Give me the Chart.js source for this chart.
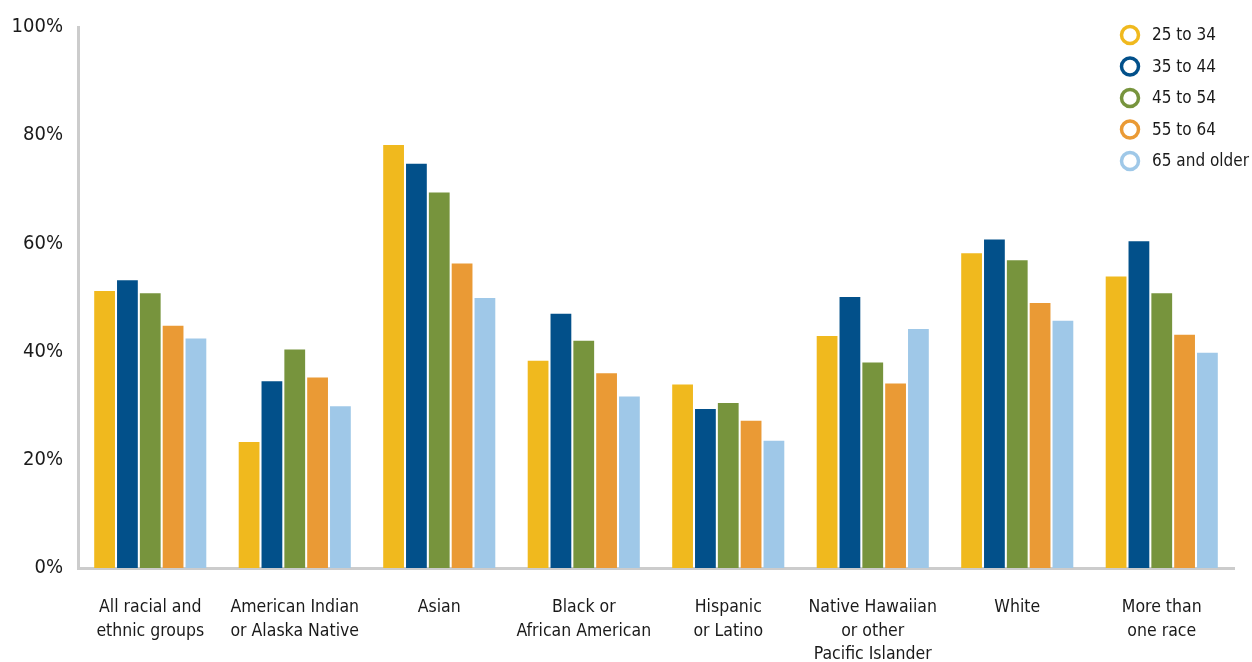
<!DOCTYPE html>
<html>
<head>
<meta charset="utf-8">
<title>Share by race and ethnicity and age group</title>
<script src="https://cdn.jsdelivr.net/npm/chart.js@4.4.1/dist/chart.umd.min.js"></script>
<style>
  html, body { margin: 0; padding: 0; background: #fff; }
  #wrap { position: relative; width: 1252px; height: 662px; }
</style>
</head>
<body>
<div id="wrap"><canvas id="chart"></canvas></div>
<script>
  // categories (multi-line labels)
  const categories = [
    ['All racial and', 'ethnic groups'],
    ['American Indian', 'or Alaska Native'],
    ['Asian'],
    ['Black or', 'African American'],
    ['Hispanic', 'or Latino'],
    ['Native Hawaiian', 'or other', 'Pacific Islander'],
    ['White'],
    ['More than', 'one race']
  ];

  const ageGroups = ['25 to 34', '35 to 44', '45 to 54', '55 to 64', '65 and older'];
  const colors = ['#F0B91E', '#02508A', '#77943D', '#EA9A35', '#9FC8E8'];

  // values in percent, per age group
  const age25to34 = [51.2, 23.3, 78.2, 38.3, 33.9, 42.9, 58.2, 53.9];
  const age35to44 = [53.2, 34.5, 74.7, 47.0, 29.4, 50.1, 60.7, 60.4];
  const age45to54 = [50.8, 40.4, 69.4, 42.0, 30.5, 38.0, 56.9, 50.8];
  const age55to64 = [44.8, 35.2, 56.3, 36.0, 27.2, 34.1, 49.0, 43.1];
  const age65plus = [42.4, 29.9, 49.9, 31.7, 23.5, 44.2, 45.7, 39.8];

  const yTicks = [0, 20, 40, 60, 80, 100];

  const FONT = '"Liberation Sans Narrow", "DejaVu Sans Condensed", "Roboto", sans-serif';
  const TEXT = '#1a1a1a';
  const AXIS = '#cccccc';

  const series = [age25to34, age35to44, age45to54, age55to64, age65plus];

  // legend drawn inside the plot, top right, with ring markers
  const ringLegend = {
    id: 'ringLegend',
    afterDraw(chart) {
      const ctx = chart.ctx;
      ctx.save();
      ctx.font = '17px ' + FONT;
      ctx.textBaseline = 'middle';
      ctx.textAlign = 'left';
      chart.data.datasets.forEach((ds, i) => {
        const y = 35 + i * 31.5;
        ctx.beginPath();
        ctx.arc(1130, y, 8.5, 0, Math.PI * 2);
        ctx.lineWidth = 3.5;
        ctx.strokeStyle = ds.backgroundColor;
        ctx.stroke();
        ctx.fillStyle = TEXT;
        ctx.fillText(ds.label, 1152, y + 1);
      });
      ctx.restore();
    }
  };

  new Chart(document.getElementById('chart'), {
    type: 'bar',
    data: {
      labels: categories,
      datasets: series.map((vals, i) => ({
        label: ageGroups[i],
        data: vals,
        backgroundColor: colors[i],
        borderWidth: 0,
        barPercentage: 0.91,
        categoryPercentage: 0.79
      }))
    },
    options: {
      responsive: true,
      maintainAspectRatio: false,
      animation: false,
      layout: { padding: { top: 12, right: 18, left: 0, bottom: 0 } },
      plugins: {
        legend: { display: false },
        tooltip: { enabled: false }
      },
      scales: {
        x: {
          grid: { display: false, drawTicks: false },
          border: { color: AXIS, width: 3 },
          ticks: {
            color: TEXT,
            font: { family: FONT, size: 17.5, lineHeight: 1.37 },
            padding: 27,
            maxRotation: 0,
            autoSkip: false
          },
          afterFit: s => { s.height = 94; }
        },
        y: {
          min: 0,
          max: 100,
          afterBuildTicks: s => { s.ticks = yTicks.map(v => ({ value: v })); },
          grid: { display: false, drawTicks: false },
          border: { color: AXIS, width: 3 },
          ticks: {
            color: TEXT,
            font: { family: FONT, size: 20 },
            padding: 15,
            callback: v => v + '%'
          },
          afterFit: s => { s.width = 78; }
        }
      }
    },
    plugins: [ringLegend]
  });
</script>
</body>
</html>
